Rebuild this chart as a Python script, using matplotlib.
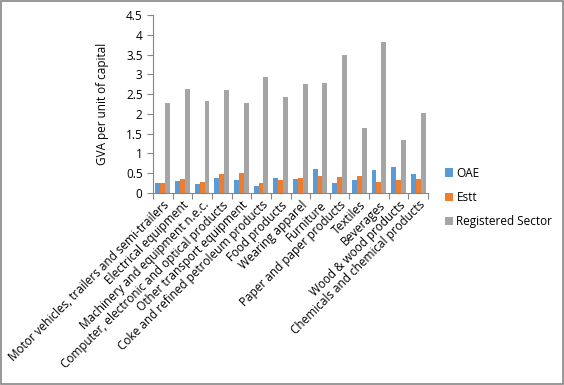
import numpy as np
import matplotlib
matplotlib.use("Agg")
from matplotlib import pyplot as plt

# 数据：按图读取
categories = ["Motor vehicles, trailers and semi-trailers", "Electrical equipment",
              "Machinery and equipment n.e.c.", "Computer, electronic and optical products",
              "Other transport equipment", "Coke and refined petroleum products",
              "Food products", "Wearing apparel", "Furniture", "Paper and paper products",
              "Textiles", "Beverages", "Wood & wood products", "Chemicals and chemical products"]
oae = [0.25, 0.31, 0.23, 0.38, 0.33, 0.18, 0.38, 0.36, 0.61, 0.25, 0.33, 0.58, 0.66, 0.48]
estt = [0.25, 0.36, 0.28, 0.48, 0.51, 0.25, 0.33, 0.38, 0.43, 0.41, 0.43, 0.28, 0.33, 0.36]
registered = [2.27, 2.62, 2.32, 2.60, 2.27, 2.92, 2.42, 2.75, 2.77, 3.50, 1.64, 3.83, 1.33, 2.02]
yticks = [0, 0.5, 1, 1.5, 2, 2.5, 3, 3.5, 4, 4.5]

plt.rcParams['font.family'] = ['Open Sans', 'DejaVu Sans']

fig = plt.figure(figsize=(5.64, 3.85), dpi=100)
ax = fig.add_axes([153/564, 1-193/385, 275/564, 178/385])

x = np.arange(len(categories))
w = 0.25
ax.bar(x - w, oae, w, color="#5B9BD5", label="OAE")
ax.bar(x, estt, w, color="#ED7D31", label="Estt")
ax.bar(x + w, registered, w, color="#A5A5A5", label="Registered Sector")

ax.set_xlim(-0.5, len(categories) - 0.5)
ax.set_ylim(0, 4.5)
ax.set_yticks(yticks)
ax.set_yticklabels([f"{v:g}" for v in yticks], fontsize=8.5)
ax.set_ylabel("GVA per unit of capital", fontsize=8.5, labelpad=12)

# x轴刻度在类别之间
ax.set_xticks(np.arange(len(categories) + 1) - 0.5, minor=False)
ax.set_xticklabels([])
ax.set_xticks(x, minor=True)
ax.set_xticklabels(categories, minor=True, rotation=45, ha="right",
                   rotation_mode="anchor", fontsize=8.5)
ax.tick_params(axis="x", which="minor", length=0, pad=4)
ax.tick_params(axis="x", which="major", length=4, color="#868686")
ax.tick_params(axis="y", length=4, color="#868686")

for s in ["top", "right"]:
    ax.spines[s].set_visible(False)
for s in ["left", "bottom"]:
    ax.spines[s].set_color("#868686")

ax.legend(loc="upper left", bbox_to_anchor=(434/564, 1-156/385), bbox_transform=fig.transFigure,
          frameon=False, fontsize=8.5, handlelength=0.7, handleheight=0.7,
          handletextpad=0.3, labelspacing=0.95)

fig.patches.append(plt.Rectangle((0.001, 0.002), 0.997, 0.996, transform=fig.transFigure,
                                 fill=False, edgecolor="#868686", linewidth=1.2))

fig.savefig("out.png", dpi=100)
